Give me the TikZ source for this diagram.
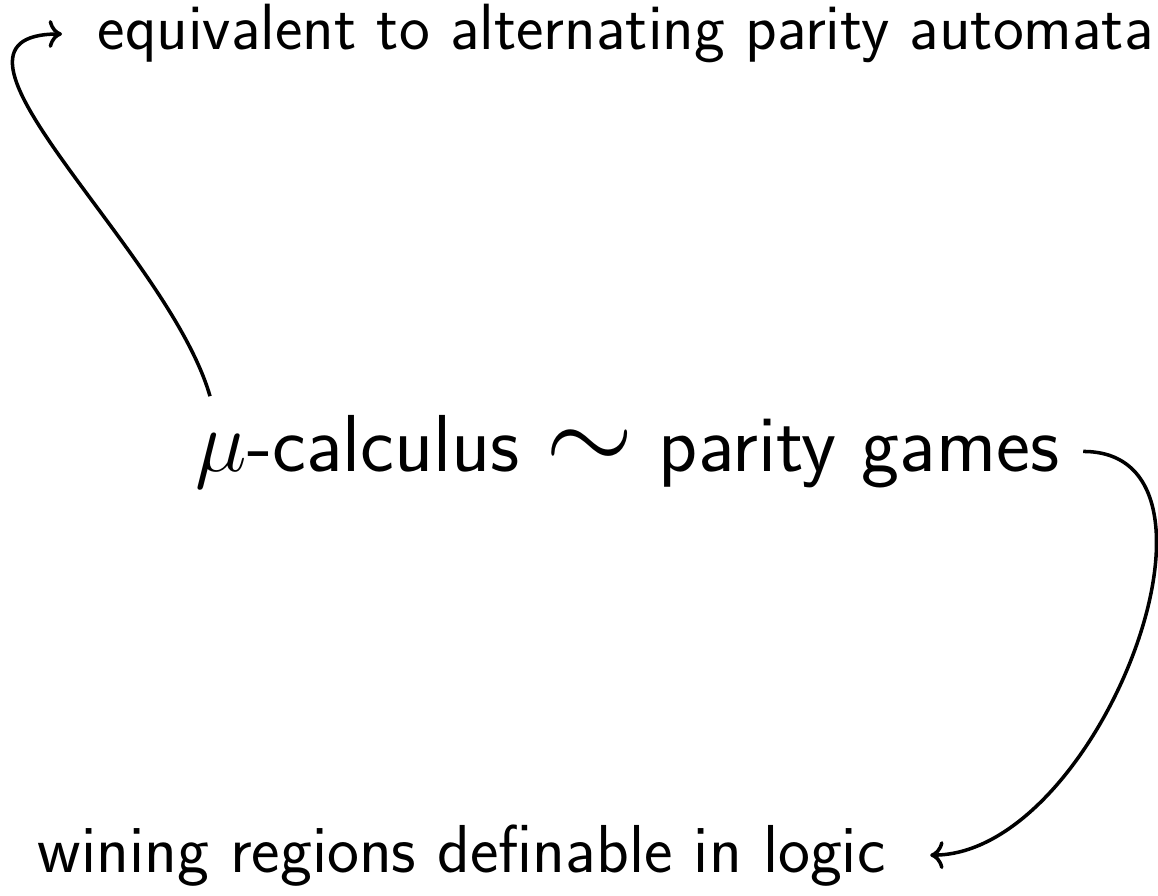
\documentclass[tikz,border=0pt]{standalone}
\usetikzlibrary{arrows.meta}

\begin{document}
\begin{tikzpicture}[
  note/.style={font=\sffamily\fontsize{#1}{22}\selectfont, inner sep=0pt, anchor=base west},
  note/.default=18.6,
  main/.style={font=\sffamily\fontsize{23}{27}\selectfont, inner sep=0pt, anchor=base west},
  link/.style={->, line width=1pt}
  ]
  \useasboundingbox (0,0) rectangle (11.58,-8.95);
  \node[note] (auto) at (0.97,-0.50) {equivalent to alternating parity automata};
  \node[main] (mu) at (1.95,-4.71) {$\mu$-calculus \scalebox{1.3}{$\sim$} parity games};
  \node[note=19.3] (win) at (0.37,-8.72) {wining regions definable in logic};

  \draw[link] ([xshift=1.5mm,yshift=1.8mm]mu.north west) to[out=106,in=180] ([xshift=-3.5mm]auto.west);
  \draw[link] ([xshift=2.3mm]mu.east) to[out=0,in=0] ([xshift=4.4mm]win.east);
\end{tikzpicture}
\end{document}
